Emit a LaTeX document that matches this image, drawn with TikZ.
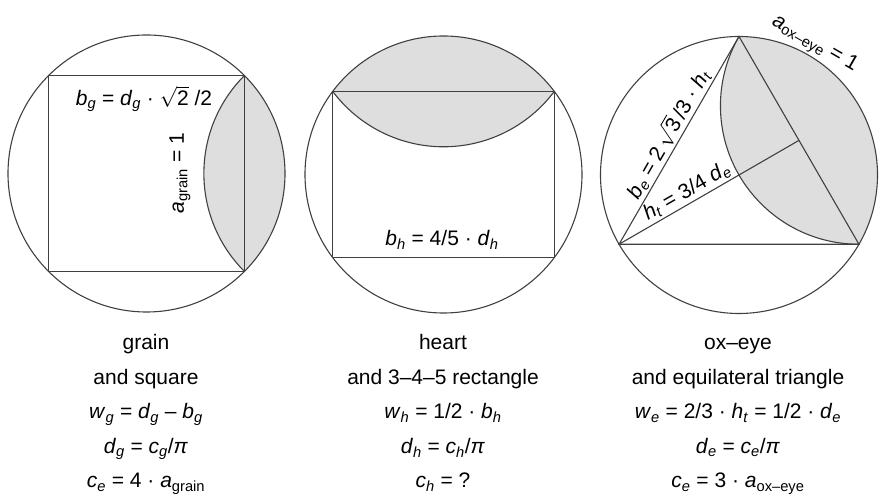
\documentclass[tikz,border=0pt]{standalone}
\usepackage{fontspec}
\setmainfont{Liberation Sans}
\usetikzlibrary{calc}
\newcommand{\vi}[2]{\textit{#1}\textsubscript{\textit{#2}}}
\newcommand{\vu}[2]{\textit{#1}\textsubscript{#2}}

\begin{document}
\begin{tikzpicture}[x=1pt, y=1pt,
    geo/.style={draw=black!75, line width=1.1pt},
    lens/.style={fill=black!13},
    lbl/.style={font=\fontsize{21}{25}\selectfont, inner sep=2pt},
    caption/.style={font=\fontsize{21}{34.5}\selectfont, align=center, anchor=base}]
    \def\R{138.5}
    \useasboundingbox (0,0) rectangle (879,494);

    % Centres of the three circles
    \coordinate (g) at (146.5,320.5);
    \coordinate (h) at (443.5,319.5);
    \coordinate (e) at (739,319);

    % Grain and square
    \fill[lens] ($(g)+(45:\R)$) arc[start angle=45, end angle=-45, radius=\R]
        arc[start angle=225, end angle=135, radius=\R] -- cycle;
    \draw[geo] ($(g)+(-45:\R)$) arc[start angle=225, end angle=135, radius=\R];
    \draw[geo] (g) circle[radius=\R];
    \draw[geo] ($(g)+(225:\R)$) rectangle ($(g)+(45:\R)$);
    \node[lbl] (bg) at (144,395) {\vi{b}{g} = \vi{d}{g} · $\sqrt{\mbox{2}}$ /2};
    \node[lbl, rotate=90] (ag) at (180,321) {\vu{a}{grain} = 1};

    % Heart and 3-4-5 rectangle
    \fill[lens] ($(h)+(36.87:\R)$) arc[start angle=36.87, end angle=143.13, radius=\R]
        arc[start angle=216.87, end angle=323.13, radius=\R] -- cycle;
    \draw[geo] ($(h)+(143.13:\R)$) arc[start angle=216.87, end angle=323.13, radius=\R];
    \draw[geo] (h) circle[radius=\R];
    \draw[geo] ($(h)+(216.87:\R)$) rectangle ($(h)+(36.87:\R)$);
    \node[lbl] (bh) at (442,254) {\vi{b}{h} = 4/5 · \vi{d}{h}};

    % Ox-eye and equilateral triangle
    \coordinate (et) at ($(e)+(90:\R)$);
    \coordinate (el) at ($(e)+(210:\R)$);
    \coordinate (er) at ($(e)+(330:\R)$);
    \coordinate (em) at ($(et)!0.5!(er)$);
    \fill[lens] (et) arc[start angle=90, end angle=-30, radius=\R]
        arc[start angle=270, end angle=150, radius=\R] -- cycle;
    \draw[geo] (er) arc[start angle=270, end angle=150, radius=\R];
    \draw[geo] (e) circle[radius=\R];
    \draw[geo] (et) -- (el) -- (er) -- cycle;
    \draw[geo] (el) -- (em) node[lbl, pos=0.41, sloped, above] (ht) {\vi{h}{t} = 3/4 \vi{d}{e}};
    \path (el) -- (et) node[lbl, midway, sloped, above] (be) {\vi{b}{e} = 2\,$\sqrt{\mbox{3}}$\,/3 · \vi{h}{t}};
    \node[lbl, anchor=south, rotate=-30] (ae) at ($(e)+(60:\R)$) {\vu{a}{ox--eye} = 1};

    % Captions (base = last line)
    \node[caption] (gcap) at (146,6) {grain\\and square\\\vi{w}{g} = \vi{d}{g} -- \vi{b}{g}\\\vi{d}{g} = \vi{c}{g}/\textit{π}\\\vi{c}{e} = 4 · \vu{a}{grain}};
    \node[caption] (hcap) at (443,6) {heart\\and 3--4--5 rectangle\\\vi{w}{h} = 1/2 · \vi{b}{h}\\\vi{d}{h} = \vi{c}{h}/\textit{π}\\\vi{c}{h} = ?};
    \node[caption] (ecap) at (738,6) {ox--eye\\and equilateral triangle\\\vi{w}{e} = 2/3 · \vi{h}{t} = 1/2 · \vi{d}{e}\\\vi{d}{e} = \vi{c}{e}/\textit{π}\\\vi{c}{e} = 3 · \vu{a}{ox--eye}};
\end{tikzpicture}
\end{document}
